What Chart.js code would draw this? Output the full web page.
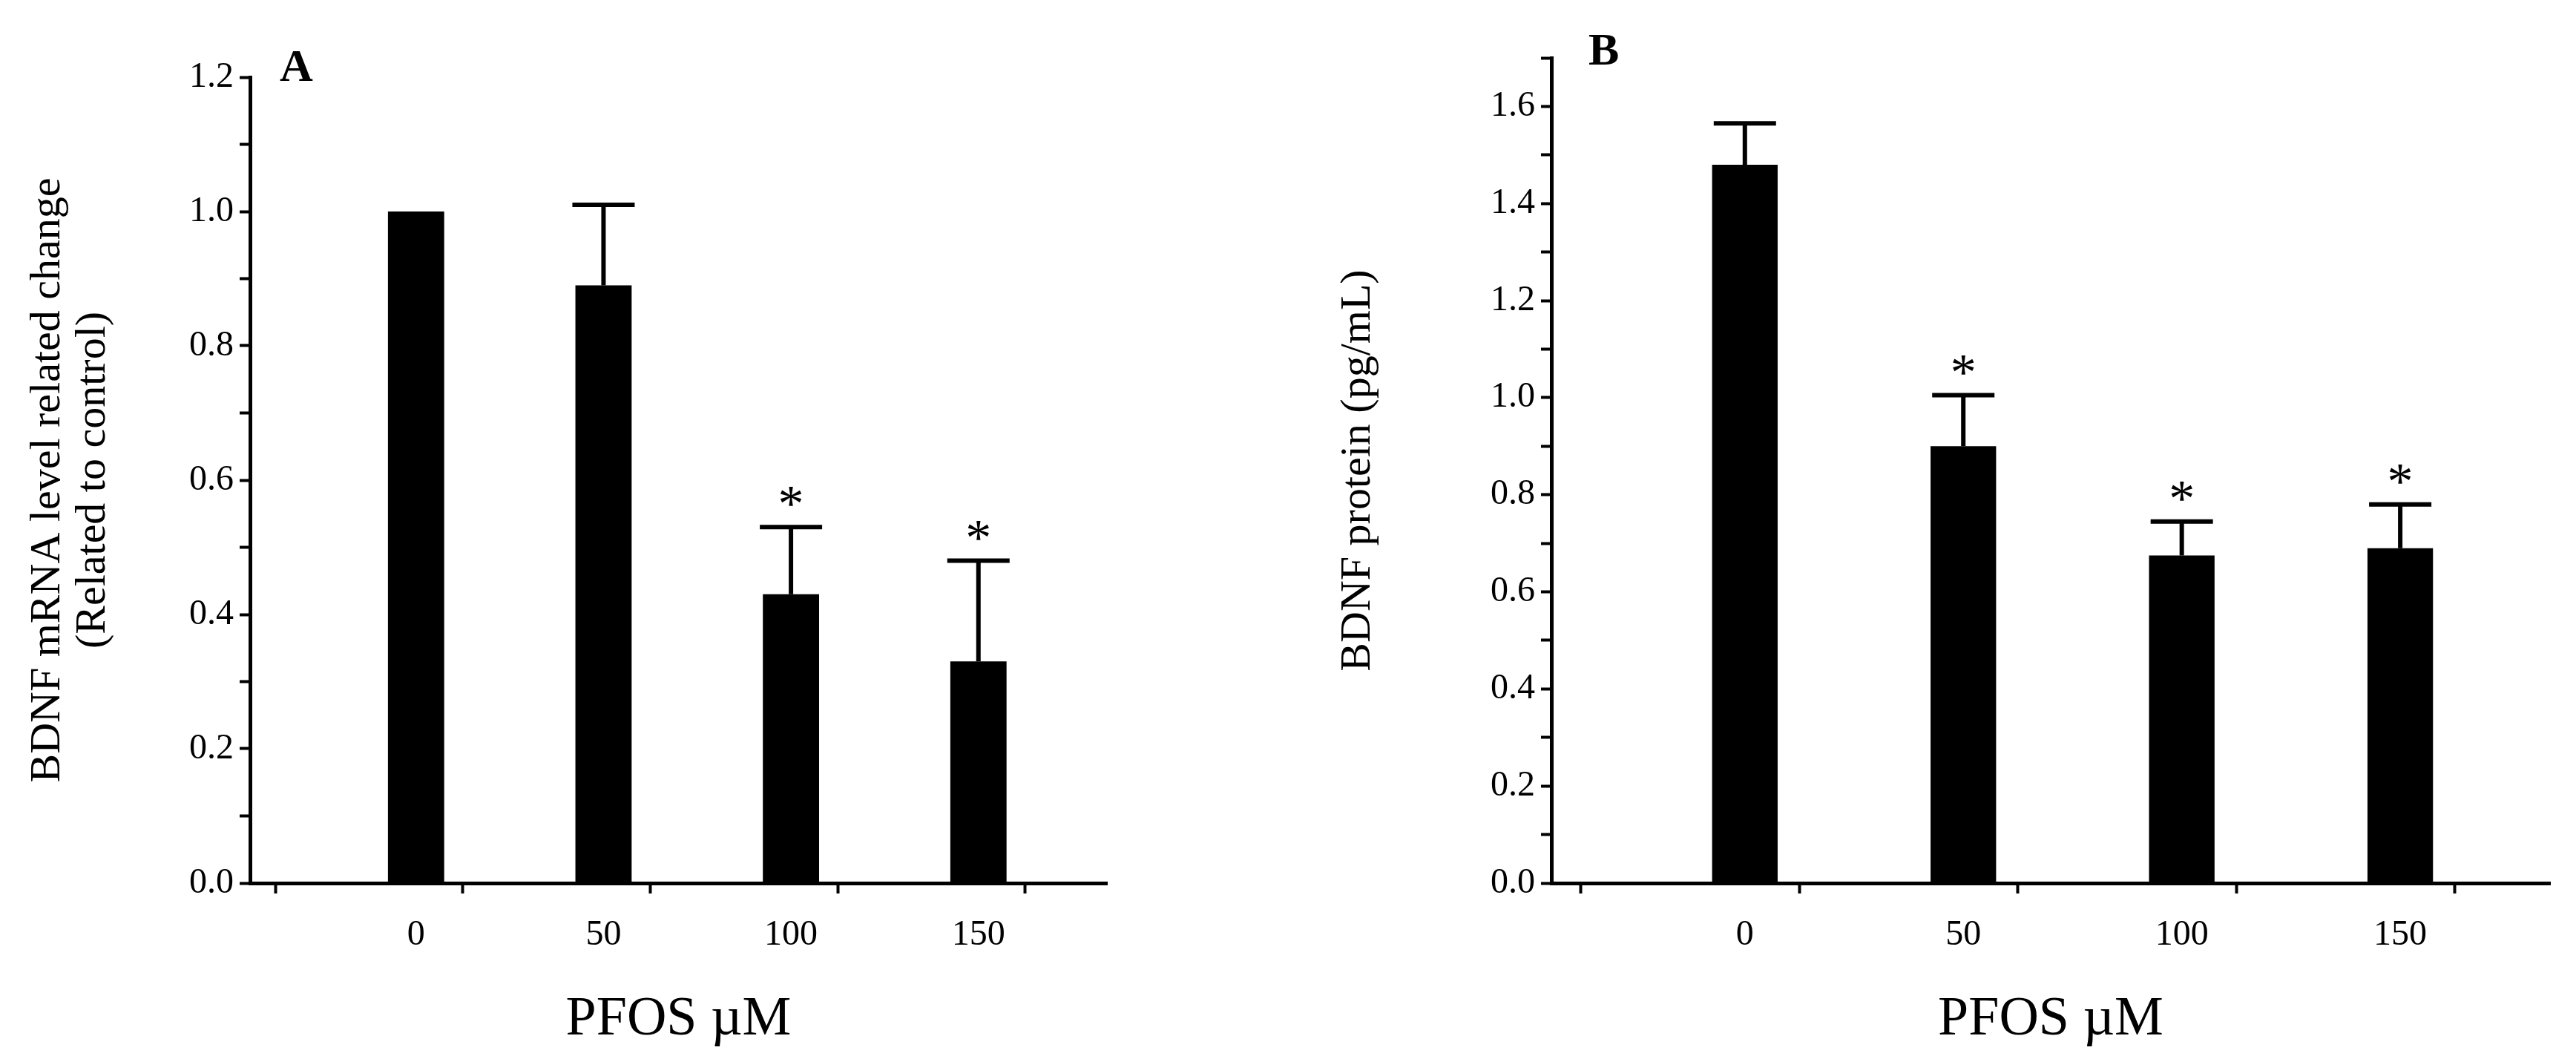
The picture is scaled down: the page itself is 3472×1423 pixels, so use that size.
<!DOCTYPE html>
<html><head>
<script src="https://cdn.jsdelivr.net/npm/chart.js@4/dist/chart.umd.min.js"></script>
<style>
body{margin:0;background:#fff;width:3472px;height:1423px;overflow:hidden;display:flex}
canvas{display:block}
</style>
</head><body>
<canvas id="chartA" width="1736" height="1423"></canvas>
<canvas id="chartB" width="1736" height="1423"></canvas>
<script>
const doses = ['0', '50', '100', '150'];
const mrnaMean = [1.0, 0.89, 0.43, 0.33];
const mrnaErr = [0, 0.12, 0.10, 0.15];
const mrnaStar = [false, false, true, true];
const proteinMean = [1.48, 0.90, 0.675, 0.69];
const proteinErr = [0.085, 0.105, 0.07, 0.09];
const proteinStar = [false, true, true, true];

const FONT = 'Liberation Serif';

const extras = {
  id: 'extras',
  afterDatasetsDraw(chart, args, opts) {
    const ctx = chart.ctx, x = chart.scales.x, y = chart.scales.y;
    ctx.save();
    ctx.strokeStyle = '#000';
    ctx.lineWidth = 6;
    ctx.fillStyle = '#000';
    opts.mean.forEach((m, i) => {
      const cx = x.getPixelForValue(i);
      const top = y.getPixelForValue(m + opts.err[i]);
      if (opts.err[i] > 0) {
        ctx.beginPath();
        ctx.moveTo(cx, y.getPixelForValue(m));
        ctx.lineTo(cx, top);
        ctx.moveTo(cx - 42, top);
        ctx.lineTo(cx + 42, top);
        ctx.stroke();
      }
      if (opts.star[i]) {
        ctx.font = '70px ' + FONT;
        ctx.textAlign = 'center';
        ctx.textBaseline = 'alphabetic';
        ctx.fillText('*', cx, top - 8);
      }
    });
    ctx.font = 'bold 62px ' + FONT;
    ctx.textAlign = 'left';
    ctx.textBaseline = 'top';
    ctx.fillText(opts.letter, chart.chartArea.left + opts.lx, opts.ly);
    ctx.restore();
  }
};

function isMajor(v) {
  return Math.abs(v - Math.round(v)) < 1e-6;
}

function makeChart(el, mean, err, star, yMax, yTitle, letter, pad, yWidth, lx, ly) {
  return new Chart(document.getElementById(el), {
    type: 'bar',
    data: {
      datasets: [{
        data: mean.map((v, i) => ({x: i, y: v})),
        backgroundColor: '#000',
        borderWidth: 0,
        barPercentage: 0.6,
        categoryPercentage: 1
      }]
    },
    plugins: [extras],
    options: {
      responsive: false,
      animation: false,
      layout: {padding: pad},
      plugins: {
        legend: {display: false},
        tooltip: {enabled: false},
        extras: {mean: mean, err: err, star: star, letter: letter, lx: lx, ly: ly}
      },
      scales: {
        x: {
          type: 'linear',
          min: -0.6,
          max: 3.4,
          afterBuildTicks: s => { s.ticks = [-0.5, 0, 0.5, 1, 1.5, 2, 2.5, 3].map(v => ({value: v})); },
          afterFit: s => { s.height = 233; },
          border: {color: '#000', width: 5},
          grid: {
            drawOnChartArea: false,
            tickLength: 14,
            tickWidth: 4,
            tickColor: c => (c.tick && isMajor(c.tick.value)) ? 'rgba(0,0,0,0)' : '#000'
          },
          ticks: {
            color: '#000',
            font: {family: FONT, size: 48},
            padding: 28,
            maxRotation: 0,
            callback: v => isMajor(v) ? doses[Math.round(v)] : ''
          },
          title: {display: true, text: 'PFOS \u00b5M', color: '#000', font: {family: FONT, size: 74}, padding: {top: 30}}
        },
        y: {
          min: 0,
          max: yMax,
          afterFit: s => { s.width = yWidth; },
          afterBuildTicks: s => {
            const t = [];
            for (let k = 0; k <= Math.round(yMax * 10); k++) t.push({value: k / 10});
            s.ticks = t;
          },
          border: {color: '#000', width: 5},
          grid: {drawOnChartArea: false, tickLength: 14, tickWidth: 4, tickColor: '#000'},
          ticks: {
            color: '#000',
            font: {family: FONT, size: 48},
            padding: 8,
            callback: v => Math.round(v * 10) % 2 === 0 ? Number(v).toFixed(1) : ''
          },
          title: {display: true, text: yTitle, color: '#000', font: {family: FONT, size: 58, lineHeight: 1.05}, padding: {bottom: 10}}
        }
      }
    }
  });
}

makeChart('chartA', mrnaMean, mrnaErr, mrnaStar, 1.2,
  ['BDNF mRNA level related change', '(Related to control)'], 'A',
  {left: 30, right: 244, top: 104, bottom: 0}, 307, 40, 62);
makeChart('chartB', proteinMean, proteinErr, proteinStar, 1.7,
  'BDNF protein (pg/mL)', 'B', {left: 60, right: 35, top: 78, bottom: 0}, 295, 50, 40);
</script>
</body></html>
